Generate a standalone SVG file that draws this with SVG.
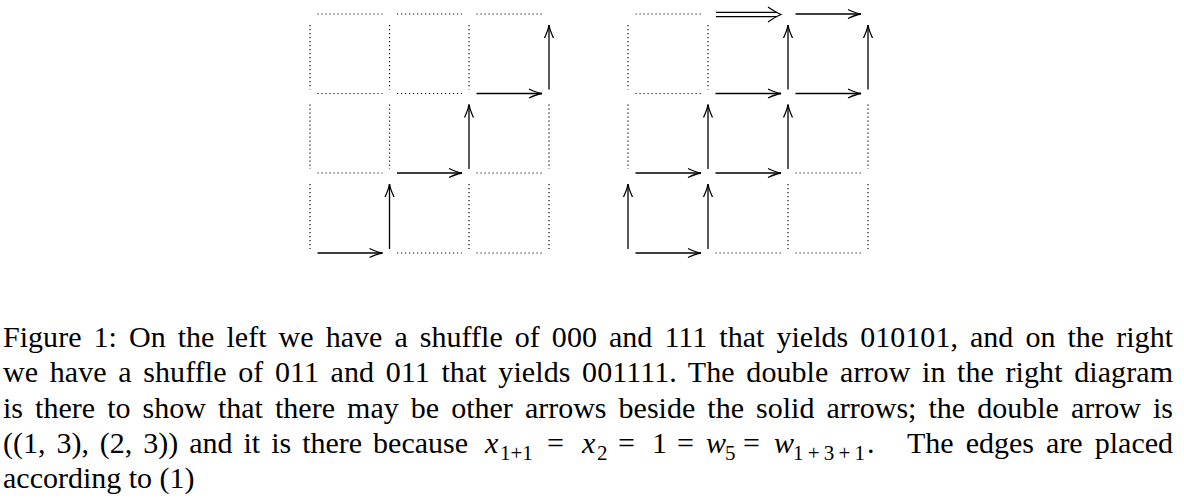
<svg xmlns="http://www.w3.org/2000/svg" width="1184" height="500" viewBox="0 0 1184 500">
<style>
.dot{stroke:#111;stroke-width:1.2;stroke-dasharray:1.2 2.8;fill:none}
.arr{stroke:#000;stroke-width:1.3;fill:none;marker-end:url(#head)}
.dbl{stroke:#000;stroke-width:1.2;fill:none}
text{font-family:"Liberation Serif","Times New Roman",serif;font-size:30px;fill:#000}
.it{font-style:italic}
.sub{font-size:21px}
</style>
<defs>
<marker id="head" markerUnits="userSpaceOnUse" viewBox="-15 -6 16 12" refX="0" refY="0" markerWidth="16" markerHeight="12" orient="auto" overflow="visible">
<path d="M-13,-4.5 Q-5,-0.8 0,0 Q-5,0.8 -13,4.5" fill="none" stroke="#000" stroke-width="1.3"/>
</marker>
</defs>
<rect width="1184" height="500" fill="#fff"/>

<g id="left-grid">
<g id="left-dotted">
<line class="dot" x1="317.5" y1="14" x2="382.5" y2="14"/>
<line class="dot" x1="397" y1="14" x2="462" y2="14"/>
<line class="dot" x1="476.5" y1="14" x2="542" y2="14"/>
<line class="dot" x1="317.5" y1="93.5" x2="382.5" y2="93.5"/>
<line class="dot" x1="397" y1="93.5" x2="462" y2="93.5"/>
<line class="dot" x1="317.5" y1="173" x2="382.5" y2="173"/>
<line class="dot" x1="476.5" y1="173" x2="542" y2="173"/>
<line class="dot" x1="397" y1="253" x2="462" y2="253"/>
<line class="dot" x1="476.5" y1="253" x2="542" y2="253"/>
<line class="dot" x1="310" y1="25" x2="310" y2="89.5"/>
<line class="dot" x1="310" y1="104.5" x2="310" y2="169"/>
<line class="dot" x1="310" y1="184" x2="310" y2="249"/>
<line class="dot" x1="389.5" y1="25" x2="389.5" y2="89.5"/>
<line class="dot" x1="389.5" y1="104.5" x2="389.5" y2="169"/>
<line class="dot" x1="469" y1="25" x2="469" y2="89.5"/>
<line class="dot" x1="469" y1="184" x2="469" y2="249"/>
<line class="dot" x1="549" y1="104.5" x2="549" y2="169"/>
<line class="dot" x1="549" y1="184" x2="549" y2="249"/>
</g>
<g id="left-connectors">
<line class="arr" x1="317.5" y1="253" x2="382.5" y2="253"/>
<line class="arr" x1="389.5" y1="249" x2="389.5" y2="184"/>
<line class="arr" x1="397" y1="173" x2="462" y2="173"/>
<line class="arr" x1="469" y1="169" x2="469" y2="104.5"/>
<line class="arr" x1="476.5" y1="93.5" x2="542" y2="93.5"/>
<line class="arr" x1="549" y1="89.5" x2="549" y2="25"/>
</g>
</g>

<g id="right-grid">
<g id="right-dotted">
<line class="dot" x1="635.5" y1="14" x2="701" y2="14"/>
<line class="dot" x1="635.5" y1="93.5" x2="701" y2="93.5"/>
<line class="dot" x1="795.5" y1="173" x2="861" y2="173"/>
<line class="dot" x1="715.5" y1="253" x2="781" y2="253"/>
<line class="dot" x1="795.5" y1="253" x2="861" y2="253"/>
<line class="dot" x1="628" y1="25" x2="628" y2="89.5"/>
<line class="dot" x1="628" y1="104.5" x2="628" y2="169"/>
<line class="dot" x1="708" y1="25" x2="708" y2="89.5"/>
<line class="dot" x1="788" y1="184" x2="788" y2="249"/>
<line class="dot" x1="868" y1="104.5" x2="868" y2="169"/>
<line class="dot" x1="868" y1="184" x2="868" y2="249"/>
</g>
<g id="right-connectors">
<g id="double-arrow">
<line class="dbl" x1="716" y1="12.3" x2="777" y2="12.3"/>
<line class="dbl" x1="716" y1="16.7" x2="777" y2="16.7"/>
<path class="dbl" d="M768,7 Q776,12.5 781,14.5 Q776,16.5 768,22"/>
</g>
<line class="arr" x1="795.5" y1="14" x2="861" y2="14"/>
<line class="arr" x1="715.5" y1="93.5" x2="781" y2="93.5"/>
<line class="arr" x1="795.5" y1="93.5" x2="861" y2="93.5"/>
<line class="arr" x1="635.5" y1="173" x2="701" y2="173"/>
<line class="arr" x1="715.5" y1="173" x2="781" y2="173"/>
<line class="arr" x1="635.5" y1="253" x2="701" y2="253"/>
<line class="arr" x1="628" y1="249" x2="628" y2="184"/>
<line class="arr" x1="708" y1="249" x2="708" y2="184"/>
<line class="arr" x1="708" y1="169" x2="708" y2="104.5"/>
<line class="arr" x1="788" y1="169" x2="788" y2="104.5"/>
<line class="arr" x1="788" y1="89.5" x2="788" y2="25"/>
<line class="arr" x1="868" y1="89.5" x2="868" y2="25"/>
</g>
</g>

<g id="caption">
<text x="3" y="347" word-spacing="4.5" textLength="1170" lengthAdjust="spacing">Figure 1: On the left we have a shuffle of 000 and 111 that yields 010101, and on the right</text>
<text x="3" y="382" word-spacing="4" textLength="1170" lengthAdjust="spacing">we have a shuffle of 011 and 011 that yields 001111. The double arrow in the right diagram</text>
<text x="3" y="418" word-spacing="4.6" textLength="1170" lengthAdjust="spacing">is there to show that there may be other arrows beside the solid arrows; the double arrow is</text>
<text x="3" y="453" word-spacing="3.5" textLength="465" lengthAdjust="spacing">((1, 3), (2, 3)) and it is there because</text>
<text x="485" y="453" class="it">x</text>
<text x="500" y="460" class="sub">1+1</text>
<text x="547" y="453">=</text>
<text x="582" y="453" class="it">x</text>
<text x="597" y="460" class="sub">2</text>
<text x="618" y="453">=</text>
<text x="652" y="453">1</text>
<text x="677" y="453">=</text>
<text x="706" y="453" class="it">w</text>
<text x="725" y="460" class="sub">5</text>
<text x="743" y="453">=</text>
<text x="774" y="453" class="it">w</text>
<text x="793" y="460" class="sub" textLength="72" lengthAdjust="spacing">1+3+1</text>
<text x="867" y="453">.</text>
<text x="907" y="453" word-spacing="4.7" textLength="266" lengthAdjust="spacing">The edges are placed</text>
<text x="3" y="488">according to (1)</text>
</g>
</svg>
